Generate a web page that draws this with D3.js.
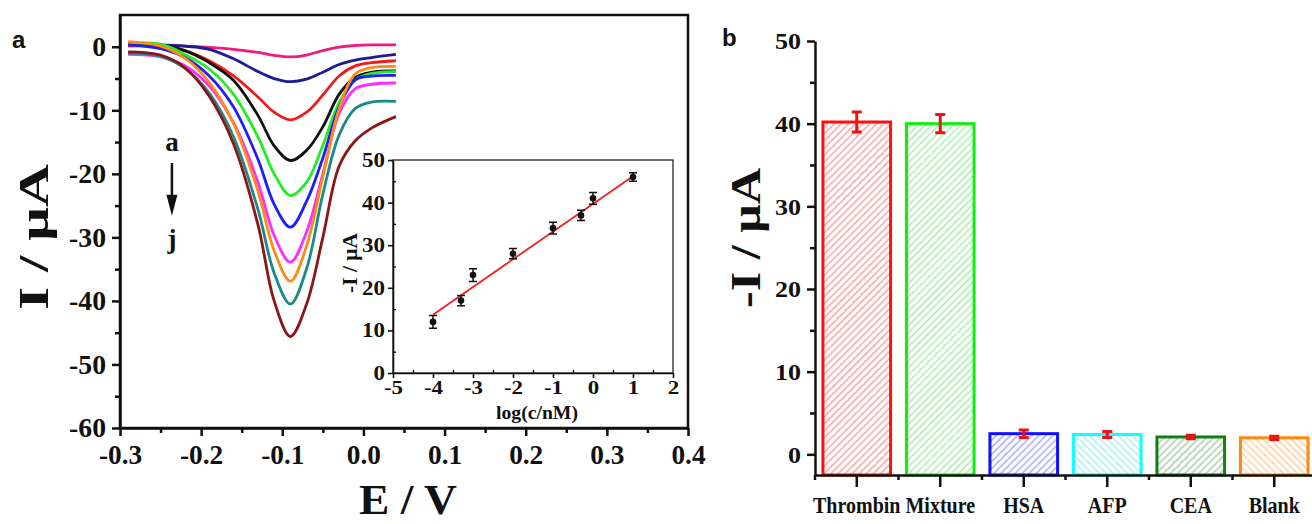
<!DOCTYPE html>
<html>
<head>
<meta charset="utf-8">
<script src="https://cdn.jsdelivr.net/npm/d3@7"></script>
<style>
  body { margin: 0; background: #fff; }
  svg { display: block; }
  .serif { font-family: "Liberation Serif", "Times New Roman", serif; font-weight: bold; fill: #111; }
  .sans { font-family: "Liberation Sans", Arial, sans-serif; font-weight: bold; fill: #111; }
</style>
</head>
<body>
<svg width="1312" height="524"></svg>
<script>
// ---- panel a: DPV responses, curves a..j (current in uA at each potential) ----
const potentials = [-0.29, -0.25, -0.22, -0.19, -0.16, -0.13, -0.11, -0.09, -0.07, -0.05, -0.03, -0.01, 0.01, 0.04];
const dpvA = [0.2, 0.2, 0.1, -0.1, -0.4, -0.9, -1.35, -1.6, -1.3, -0.6, -0.05, 0.2, 0.3, 0.3];
const dpvB = [0.3, 0.3, 0.1, -0.4, -1.9, -3.9, -5.0, -5.5, -5.1, -4.0, -2.8, -2.1, -1.7, -1.2];
const dpvC = [0.1, 0.1, -0.6, -2.2, -4.6, -7.9, -10.3, -11.5, -10.3, -7.6, -4.6, -3.0, -2.5, -2.2];
const dpvD = [0.4, 0.3, -0.6, -2.5, -5.3, -10.8, -15.6, -17.9, -16.3, -12.6, -7.5, -4.8, -4.0, -3.8];
const dpvE = [0.5, 0.4, -1.2, -3.5, -7.5, -14.2, -20.0, -23.4, -21.3, -15.5, -8.8, -5.2, -4.2, -3.9];
const dpvF = [0.3, -0.3, -1.7, -4.6, -9.5, -17.7, -24.8, -28.4, -24.3, -17.5, -9.5, -5.2, -4.6, -4.5];
const dpvG = [-1.2, -1.6, -3.0, -6.2, -12.0, -21.3, -29.7, -33.9, -29.1, -20.0, -10.5, -6.6, -5.9, -5.7];
const dpvH = [0.8, 0.1, -1.8, -5.6, -12.1, -22.7, -32.1, -36.9, -31.3, -20.5, -9.8, -4.3, -3.3, -3.1];
const dpvI = [-1.0, -1.5, -3.4, -7.3, -14.2, -25.6, -35.6, -40.5, -34.9, -23.2, -13.9, -9.7, -8.7, -8.6];
const dpvJ = [-0.8, -1.3, -3.3, -7.8, -15.3, -28.0, -40.0, -45.6, -40.5, -30.0, -18.8, -14.8, -12.8, -11.0];
const dpvCurves = [dpvA, dpvB, dpvC, dpvD, dpvE, dpvF, dpvG, dpvH, dpvI, dpvJ];
const curveColors = ['#ee1c7c', '#1c1c98', '#ee1c1c', '#111111', '#22ee22', '#1c1cff', '#ff2cff', '#ff8a18', '#1a8a8a', '#8a1616'];

const eTicks = [-0.3, -0.2, -0.1, 0, 0.1, 0.2, 0.3, 0.4];
const iTicks = [0, -10, -20, -30, -40, -50, -60];

// ---- inset: calibration ----
const logConc = [-4, -3.3, -3, -2, -1, -0.3, 0, 1];
const peakCurrent = [12, 17, 23, 28, 34, 37, 41, 46];
const peakErr = [1.5, 1.2, 1.5, 1.2, 1.4, 1.2, 1.4, 1.0];
const fitLogC = [-4, 1];
const fitCurrent = [13.7, 46.2];
const insetXTicks = [-5, -4, -3, -2, -1, 0, 1, 2];
const insetYTicks = [0, 10, 20, 30, 40, 50];

// ---- panel b: selectivity ----
const analytes = ['Thrombin', 'Mixture', 'HSA', 'AFP', 'CEA', 'Blank'];
const responses = [40.2, 40.0, 2.5, 2.4, 2.1, 2.0];
const responseErr = [1.2, 1.1, 0.45, 0.35, 0.2, 0.2];
const bTicks = [0, 10, 20, 30, 40, 50];
const barColors = ['#ff1010', '#10ee10', '#1010ff', '#10ffff', '#108010', '#ff8810'];
const hatchColors = ['#f4a0a0', '#a6eca6', '#a6a6f0', '#a6f0f0', '#a6cca6', '#ffcc99'];
const hatchAngles = [45, 45, 45, -45, 45, -45];

const svg = d3.select('svg');
const defs = svg.append('defs');

// squeeze/stretch text like the original figure
function stretch(sel, sx, sy) {
  sel.each(function () {
    const t = d3.select(this);
    const tx = +t.attr('x') || 0, ty = +t.attr('y') || 0;
    t.attr('x', 0).attr('y', 0).attr('transform', `translate(${tx},${ty}) scale(${sx},${sy})`);
  });
}

function styleAxis(g, size, sw) {
  g.attr('font-size', null).attr('font-family', null);
  g.select('.domain').attr('stroke', '#111').attr('stroke-width', sw);
  g.selectAll('.tick line').attr('stroke', '#111').attr('stroke-width', sw);
  g.selectAll('.tick text').attr('class', 'serif').attr('font-size', size);
}

// ===================== panel a =====================
const x = d3.scaleLinear().domain([-0.3, 0.4]).range([120, 688]);
const y = d3.scaleLinear().domain([-60, 5]).range([428, 15]);

const line = d3.line()
  .x((d, i) => x(potentials[i]))
  .y(d => y(d))
  .curve(d3.curveCatmullRom.alpha(0.5));

svg.append('g').selectAll('path')
  .data(dpvCurves)
  .join('path')
  .attr('d', line)
  .attr('fill', 'none')
  .attr('stroke', (d, i) => curveColors[i])
  .attr('stroke-width', 2.8);

svg.append('rect')
  .attr('x', x.range()[0]).attr('y', y.range()[1])
  .attr('width', x.range()[1] - x.range()[0])
  .attr('height', y.range()[0] - y.range()[1])
  .attr('fill', 'none').attr('stroke', '#111').attr('stroke-width', 2.5);

const xAx = svg.append('g')
  .attr('transform', `translate(0,${y.range()[0]})`)
  .call(d3.axisBottom(x).tickValues(eTicks).tickFormat(d => d.toFixed(1)).tickSize(8).tickSizeOuter(0).tickPadding(9));
styleAxis(xAx, 21, 2.5);
stretch(xAx.selectAll('.tick text'), 1.3, 1.3);

svg.append('g')
  .attr('transform', `translate(0,${y.range()[0]})`)
  .call(d3.axisBottom(x).tickValues(d3.range(-0.25, 0.4, 0.1)).tickFormat('').tickSize(5))
  .call(g => { g.select('.domain').remove(); g.selectAll('line').attr('stroke', '#111').attr('stroke-width', 2.5); });

const yAx = svg.append('g')
  .attr('transform', `translate(${x.range()[0]},0)`)
  .call(d3.axisLeft(y).tickValues(iTicks).tickFormat(d => String(d)).tickSize(8).tickSizeOuter(0).tickPadding(6));
styleAxis(yAx, 21, 2.5);
stretch(yAx.selectAll('.tick text'), 1.32, 1.3);

svg.append('g')
  .attr('transform', `translate(${x.range()[0]},0)`)
  .call(d3.axisLeft(y).tickValues(d3.range(-55, 5, 10)).tickFormat('').tickSize(5))
  .call(g => { g.select('.domain').remove(); g.selectAll('line').attr('stroke', '#111').attr('stroke-width', 2.5); });

svg.append('text').attr('class', 'serif')
  .attr('x', 408).attr('y', 514)
  .attr('text-anchor', 'middle').attr('font-size', 42)
  .attr('textLength', 98).attr('lengthAdjust', 'spacingAndGlyphs')
  .text('E / V');

svg.append('text').attr('class', 'serif')
  .attr('transform', 'translate(48,237) rotate(-90)')
  .attr('text-anchor', 'middle').attr('font-size', 42)
  .attr('textLength', 146).attr('lengthAdjust', 'spacingAndGlyphs')
  .text('I / μA');

svg.append('text').attr('class', 'sans')
  .attr('x', 12).attr('y', 48).attr('font-size', 24).text('a');

// a -> j arrow
const arrowX = x(-0.236);
svg.append('text').attr('class', 'serif')
  .attr('x', arrowX).attr('y', y(-16.4))
  .attr('text-anchor', 'middle').attr('font-size', 27).text('a');
svg.append('line')
  .attr('x1', arrowX).attr('x2', arrowX)
  .attr('y1', y(-18.3)).attr('y2', y(-24))
  .attr('stroke', '#111').attr('stroke-width', 2.5);
svg.append('path')
  .attr('d', `M${arrowX - 5.5},${y(-23.3)} L${arrowX + 5.5},${y(-23.3)} L${arrowX},${y(-26.6)} Z`)
  .attr('fill', '#111');
svg.append('text').attr('class', 'serif')
  .attr('x', arrowX).attr('y', y(-31.7))
  .attr('text-anchor', 'middle').attr('font-size', 27).text('j');

// ===================== inset =====================
const ix = d3.scaleLinear().domain([-5, 2]).range([393, 673]);
const iy = d3.scaleLinear().domain([0, 50]).range([373, 160]);

svg.append('rect')
  .attr('x', ix.range()[0]).attr('y', iy.range()[1])
  .attr('width', ix.range()[1] - ix.range()[0])
  .attr('height', iy.range()[0] - iy.range()[1])
  .attr('fill', '#fff').attr('stroke', '#222').attr('stroke-width', 1.3);

const ixAx = svg.append('g')
  .attr('transform', `translate(0,${iy.range()[0]})`)
  .call(d3.axisBottom(ix).tickValues(insetXTicks).tickFormat(d => String(d)).tickSize(5).tickSizeOuter(0).tickPadding(3));
styleAxis(ixAx, 17, 1.6);
stretch(ixAx.selectAll('.tick text'), 1.35, 1.05);
svg.append('g')
  .attr('transform', `translate(0,${iy.range()[0]})`)
  .call(d3.axisTop(ix).tickValues(d3.range(-4.5, 2, 1)).tickFormat('').tickSize(3))
  .call(g => { g.select('.domain').remove(); g.selectAll('line').attr('stroke', '#111').attr('stroke-width', 1.4); });

const iyAx = svg.append('g')
  .attr('transform', `translate(${ix.range()[0]},0)`)
  .call(d3.axisLeft(iy).tickValues(insetYTicks).tickFormat(d => String(d)).tickSize(5).tickSizeOuter(0).tickPadding(3));
styleAxis(iyAx, 17, 1.6);
stretch(iyAx.selectAll('.tick text'), 1.35, 1.2);
svg.append('g')
  .attr('transform', `translate(${ix.range()[0]},0)`)
  .call(d3.axisRight(iy).tickValues(d3.range(5, 50, 10)).tickFormat('').tickSize(3))
  .call(g => { g.select('.domain').remove(); g.selectAll('line').attr('stroke', '#111').attr('stroke-width', 1.4); });

svg.append('line')
  .attr('x1', ix(fitLogC[0])).attr('y1', iy(fitCurrent[0]))
  .attr('x2', ix(fitLogC[1])).attr('y2', iy(fitCurrent[1]))
  .attr('stroke', '#ee2020').attr('stroke-width', 1.8);

const pts = svg.append('g').selectAll('g')
  .data(logConc.map((c, i) => ({ c, v: peakCurrent[i], e: peakErr[i] })))
  .join('g');
pts.append('path')
  .attr('d', d => {
    const cx = ix(d.c), t = iy(d.v + d.e), b = iy(d.v - d.e);
    return `M${cx - 4},${t}H${cx + 4}M${cx},${t}V${b}M${cx - 4},${b}H${cx + 4}`;
  })
  .attr('stroke', '#111').attr('stroke-width', 1.5).attr('fill', 'none');
pts.append('circle')
  .attr('cx', d => ix(d.c)).attr('cy', d => iy(d.v)).attr('r', 3.3)
  .attr('fill', '#111');

svg.append('text').attr('class', 'serif')
  .attr('x', (ix.range()[0] + ix.range()[1]) / 2 + 4).attr('y', 419)
  .attr('text-anchor', 'middle').attr('font-size', 19)
  .attr('textLength', 82).attr('lengthAdjust', 'spacingAndGlyphs')
  .text('log(c/nM)');
svg.append('text').attr('class', 'serif')
  .attr('transform', 'translate(357,263) rotate(-90)')
  .attr('text-anchor', 'middle').attr('font-size', 20)
  .attr('textLength', 60).attr('lengthAdjust', 'spacingAndGlyphs')
  .text('-I / μA');

// ===================== panel b =====================
const xb = d3.scaleBand().domain(analytes).range([815, 1316]).paddingInner(0.19).paddingOuter(0.095);
const yb = d3.scaleLinear().domain([-2.5, 50]).range([475, 41]);

analytes.forEach((a, i) => {
  const p = defs.append('pattern')
    .attr('id', 'hatch' + i)
    .attr('patternUnits', 'userSpaceOnUse')
    .attr('width', 5).attr('height', 5)
    .attr('patternTransform', `rotate(${hatchAngles[i]})`);
  p.append('rect').attr('width', 5).attr('height', 5).attr('fill', '#fff');
  p.append('line').attr('x1', 2.5).attr('x2', 2.5).attr('y1', 0).attr('y2', 5)
    .attr('stroke', hatchColors[i]).attr('stroke-width', 1.5);
});

svg.append('g').selectAll('rect')
  .data(analytes)
  .join('rect')
  .attr('x', d => xb(d))
  .attr('y', (d, i) => yb(responses[i]))
  .attr('width', xb.bandwidth())
  .attr('height', (d, i) => yb.range()[0] - yb(responses[i]))
  .attr('fill', (d, i) => `url(#hatch${i})`)
  .attr('stroke', (d, i) => barColors[i])
  .attr('stroke-width', 3);

svg.append('g').selectAll('path')
  .data(analytes)
  .join('path')
  .attr('d', (d, i) => {
    const cx = xb(d) + xb.bandwidth() / 2;
    const t = yb(responses[i] + responseErr[i]), b = yb(responses[i] - responseErr[i]);
    return `M${cx - 5},${t}H${cx + 5}M${cx},${t}V${b}M${cx - 5},${b}H${cx + 5}`;
  })
  .attr('stroke', '#ee1111').attr('stroke-width', 3).attr('fill', 'none');

const xbAx = svg.append('g')
  .attr('transform', `translate(0,${yb.range()[0]})`)
  .call(d3.axisBottom(xb).tickSize(12).tickSizeOuter(0).tickPadding(10));
styleAxis(xbAx, 20, 2.5);
stretch(xbAx.selectAll('.tick text'), 1.0, 1.15);

svg.append('g').selectAll('line')
  .data(analytes)
  .join('line')
  .attr('x1', d => xb(d) - (xb.step() - xb.bandwidth()) / 2)
  .attr('x2', d => xb(d) - (xb.step() - xb.bandwidth()) / 2)
  .attr('y1', yb.range()[0]).attr('y2', yb.range()[0] + 5)
  .attr('stroke', '#111').attr('stroke-width', 2.5);

const ybAx = svg.append('g')
  .attr('transform', `translate(${xb.range()[0]},0)`)
  .call(d3.axisLeft(yb).tickValues(bTicks).tickFormat(d => String(d)).tickSize(8).tickSizeOuter(0).tickPadding(6));
styleAxis(ybAx, 20, 2.5);
stretch(ybAx.selectAll('.tick text'), 1.3, 1.2);
svg.append('g')
  .attr('transform', `translate(${xb.range()[0]},0)`)
  .call(d3.axisLeft(yb).tickValues(d3.range(5, 50, 10)).tickFormat('').tickSize(5))
  .call(g => { g.select('.domain').remove(); g.selectAll('line').attr('stroke', '#111').attr('stroke-width', 2.5); });

svg.append('text').attr('class', 'serif')
  .attr('transform', 'translate(760,238) rotate(-90)')
  .attr('text-anchor', 'middle').attr('font-size', 42)
  .attr('textLength', 140).attr('lengthAdjust', 'spacingAndGlyphs')
  .text('-I / μA');

svg.append('text').attr('class', 'sans')
  .attr('x', 722).attr('y', 46).attr('font-size', 24).text('b');
</script>
</body>
</html>
